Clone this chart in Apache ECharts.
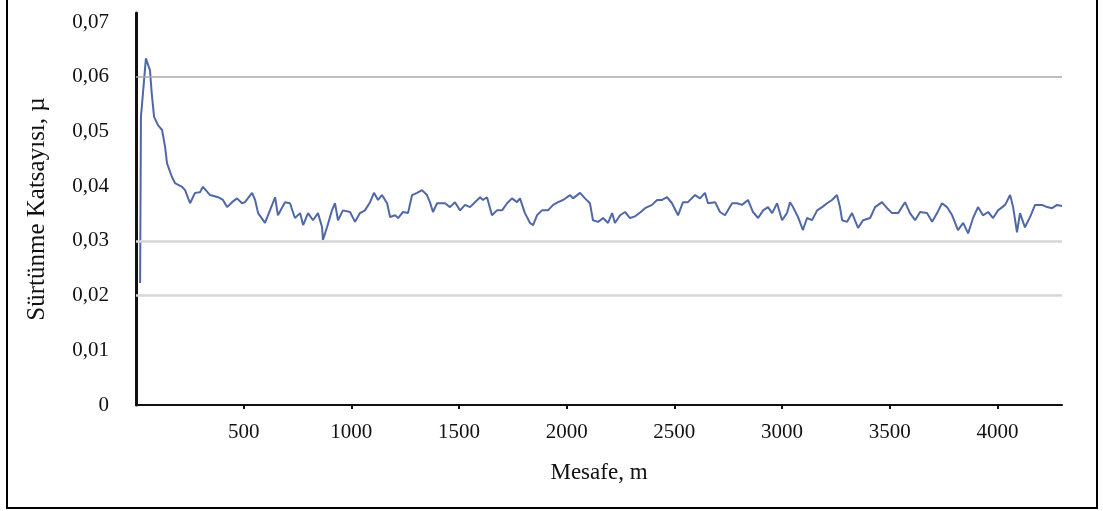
<!DOCTYPE html>
<html>
<head>
<meta charset="utf-8">
<script src="https://cdn.jsdelivr.net/npm/echarts@6/dist/echarts.min.js"></script>
<style>
  html, body { margin: 0; padding: 0; background: #fff; }
  #chart { width: 1103px; height: 511px; }
  #frame {
    position: absolute; left: 6px; top: -5px; width: 1092px; height: 514px;
    border: 2px solid #000; box-sizing: border-box; pointer-events: none;
  }
</style>
</head>
<body>
<div id="chart"></div>
<div id="frame"></div>
<script>
// distance along the test, m
const distance = [
  19, 23, 46, 65, 73, 84, 102, 121, 135, 144, 167, 181, 214, 228, 251, 274, 297, 311, 344, 381,
  404, 423, 446, 469, 492, 506, 539, 553, 567, 599, 622, 646, 659, 692, 715, 738, 762, 776, 799, 822,
  845, 864, 868, 887, 910, 924, 938, 961, 994, 1017, 1040, 1063, 1087, 1105, 1124, 1142, 1166, 1180, 1203, 1217,
  1240, 1263, 1282, 1305, 1328, 1351, 1365, 1379, 1398, 1435, 1458, 1481, 1505, 1528, 1551, 1574, 1598, 1611, 1630, 1653,
  1676, 1700, 1723, 1746, 1769, 1783, 1806, 1830, 1844, 1862, 1885, 1913, 1937, 1960, 1983, 2016, 2029, 2062, 2085, 2108,
  2122, 2146, 2169, 2192, 2211, 2224, 2248, 2271, 2294, 2317, 2341, 2364, 2396, 2420, 2443, 2466, 2489, 2517, 2540, 2563,
  2596, 2619, 2642, 2656, 2689, 2712, 2735, 2768, 2791, 2814, 2842, 2865, 2889, 2912, 2935, 2954, 2977, 3000, 3023, 3037,
  3051, 3074, 3097, 3116, 3139, 3163, 3186, 3209, 3232, 3255, 3269, 3279, 3302, 3325, 3353, 3376, 3409, 3432, 3464, 3488,
  3511, 3539, 3571, 3594, 3618, 3641, 3673, 3697, 3720, 3743, 3766, 3790, 3817, 3841, 3864, 3887, 3910, 3933, 3957, 3980,
  4003, 4036, 4059, 4073, 4091, 4105, 4128, 4152, 4175, 4207, 4231, 4254, 4277, 4300
];

// friction coefficient
const mu = [
  0.0223, 0.0527, 0.0634, 0.0612, 0.0570, 0.0527, 0.0512, 0.0503, 0.0472, 0.0442, 0.0417, 0.0406, 0.0399, 0.0393, 0.0369, 0.0388, 0.0389, 0.0399, 0.0384, 0.0380,
  0.0375, 0.0362, 0.0371, 0.0378, 0.0369, 0.0371, 0.0388, 0.0375, 0.0351, 0.0333, 0.0356, 0.0380, 0.0347, 0.0371, 0.0369, 0.0342, 0.0351, 0.0329, 0.0351, 0.0338,
  0.0351, 0.0325, 0.0302, 0.0325, 0.0356, 0.0369, 0.0338, 0.0356, 0.0353, 0.0335, 0.0351, 0.0356, 0.0371, 0.0388, 0.0375, 0.0384, 0.0369, 0.0344, 0.0347, 0.0342,
  0.0353, 0.0351, 0.0384, 0.0388, 0.0393, 0.0384, 0.0371, 0.0353, 0.0369, 0.0369, 0.0362, 0.0371, 0.0356, 0.0366, 0.0362, 0.0371, 0.0380, 0.0375, 0.0380, 0.0347,
  0.0356, 0.0356, 0.0369, 0.0378, 0.0371, 0.0378, 0.0351, 0.0333, 0.0329, 0.0347, 0.0356, 0.0356, 0.0366, 0.0371, 0.0375, 0.0384, 0.0378, 0.0388, 0.0378, 0.0369,
  0.0338, 0.0335, 0.0342, 0.0333, 0.0351, 0.0333, 0.0347, 0.0353, 0.0342, 0.0345, 0.0352, 0.0360, 0.0366, 0.0375, 0.0375, 0.0380, 0.0369, 0.0347, 0.0371, 0.0371,
  0.0384, 0.0378, 0.0388, 0.0369, 0.0371, 0.0353, 0.0347, 0.0369, 0.0369, 0.0366, 0.0375, 0.0353, 0.0342, 0.0356, 0.0362, 0.0351, 0.0369, 0.0338, 0.0351, 0.0371,
  0.0362, 0.0344, 0.0320, 0.0342, 0.0338, 0.0356, 0.0362, 0.0369, 0.0375, 0.0384, 0.0362, 0.0338, 0.0335, 0.0351, 0.0324, 0.0338, 0.0342, 0.0362, 0.0371, 0.0360,
  0.0351, 0.0351, 0.0371, 0.0351, 0.0338, 0.0353, 0.0351, 0.0335, 0.0351, 0.0369, 0.0362, 0.0347, 0.0320, 0.0333, 0.0314, 0.0342, 0.0362, 0.0347, 0.0353, 0.0342,
  0.0356, 0.0366, 0.0384, 0.0362, 0.0316, 0.0351, 0.0325, 0.0344, 0.0366, 0.0366, 0.0362, 0.0360, 0.0366, 0.0364
];

const xTicks = [500, 1000, 1500, 2000, 2500, 3000, 3500, 4000];
const yTicks = [0, 0.01, 0.02, 0.03, 0.04, 0.05, 0.06, 0.07];
const gridValues = [0.02, 0.03, 0.06];

const serif = '"Liberation Serif", "DejaVu Serif", serif';
const chart = echarts.init(document.getElementById('chart'));

chart.setOption({
  animation: false,
  grid: { left: 136, right: 41, top: 13, bottom: 106 },
  xAxis: {
    type: 'value',
    min: 0,
    max: 4300,
    name: 'Mesafe, m',
    nameLocation: 'middle',
    nameGap: 56,
    nameTextStyle: { fontFamily: serif, fontSize: 23, color: '#111' },
    axisLine: { lineStyle: { color: '#111', width: 2 } },
    axisTick: { customValues: xTicks, length: 4, lineStyle: { color: '#111', width: 2 } },
    axisLabel: {
      customValues: xTicks,
      margin: 17,
      fontFamily: serif,
      fontSize: 21,
      color: '#111',
      formatter: v => String(v)
    },
    splitLine: { show: false }
  },
  yAxis: {
    type: 'value',
    min: 0,
    max: 0.0717,
    name: 'Sürtünme Katsayısı, µ',
    nameLocation: 'middle',
    nameGap: 86,
    nameTextStyle: { fontFamily: serif, fontSize: 25, color: '#111' },
    axisLine: { show: true, lineStyle: { color: '#111', width: 3 } },
    axisTick: { show: false },
    axisLabel: {
      customValues: yTicks,
      margin: 27,
      fontFamily: serif,
      fontSize: 21,
      color: '#111',
      formatter: v => (v === 0 ? '0' : v.toFixed(2).replace('.', ','))
    },
    splitLine: { show: false }
  },
  series: [{
    type: 'line',
    data: distance.map((d, i) => [d, mu[i]]),
    showSymbol: false,
    lineStyle: { color: '#5068a8', width: 2 },
    markLine: {
      silent: true,
      symbol: 'none',
      label: { show: false },
      data: gridValues.map(v => ({
        yAxis: v,
        lineStyle: { type: 'solid', color: v === 0.06 ? '#a8a8a8' : '#d6d6d6', width: v === 0.06 ? 1.5 : 2.5 }
      }))
    },
    z: 3
  }]
});
</script>
</body>
</html>
